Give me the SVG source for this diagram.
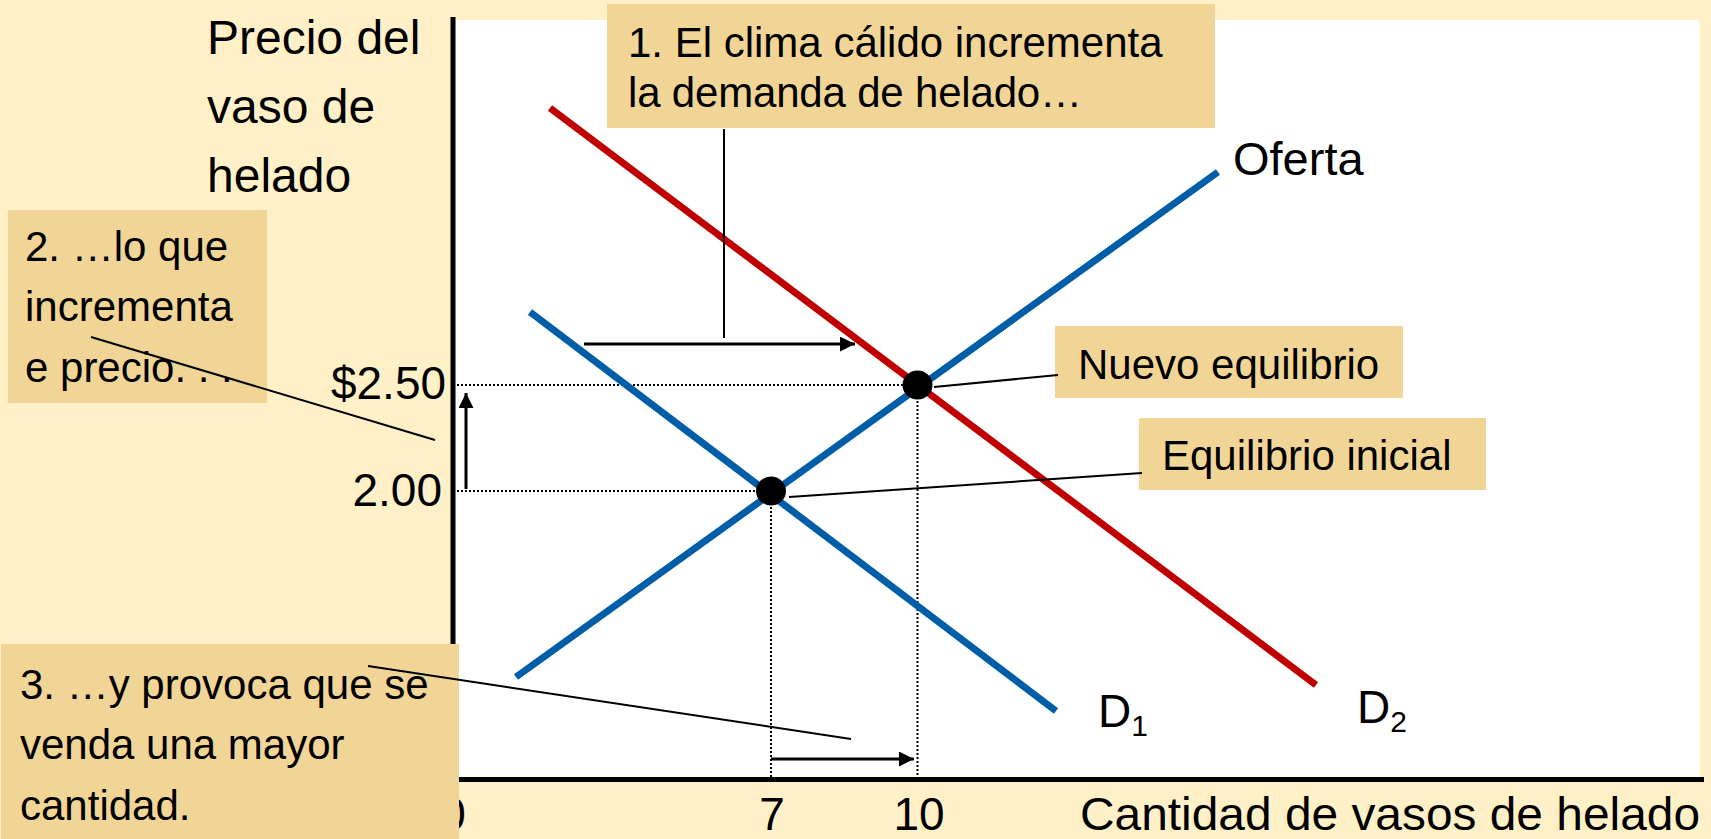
<svg xmlns="http://www.w3.org/2000/svg" width="1711" height="839" viewBox="0 0 1711 839">
<defs>
<marker id="ah" viewBox="0 0 10 10" refX="10" refY="5" markerWidth="5" markerHeight="5" orient="auto" markerUnits="strokeWidth">
<path d="M0,0 L10,5 L0,10 z" fill="#000"/>
</marker>
<style>
text{font-family:"Liberation Sans",Arial,sans-serif;fill:#000}
.box{fill:#F1D597}
.t42{font-size:42px}
.t46{font-size:46px}
.dot{stroke:#000;stroke-width:2;stroke-dasharray:2 2;fill:none}
.ptr{stroke:#000;stroke-width:2;fill:none}
.arr{stroke:#000;stroke-width:3;fill:none;marker-end:url(#ah)}
.blue{stroke:#005EA8;stroke-width:7;fill:none}
.red{stroke:#C00000;stroke-width:7;fill:none}
.ax{stroke:#000;stroke-width:5;fill:none}
</style>
</defs>
<rect x="0" y="0" width="1711" height="839" fill="#FFF0C8"/>
<rect x="455" y="20" width="1245" height="758" rx="4" fill="#FFFFFF"/>

<g id="guides">
<line class="dot" x1="457" y1="385" x2="917" y2="385"/>
<line class="dot" x1="457" y1="491" x2="771" y2="491"/>
<line class="dot" x1="771" y1="491" x2="771" y2="777"/>
<line class="dot" x1="917.5" y1="385" x2="917.5" y2="777"/>
</g>

<g id="axes">
<line class="ax" x1="453" y1="17" x2="453" y2="782"/>
<line class="ax" x1="451" y1="779.5" x2="1704" y2="779.5"/>
<text class="t46" x="453" y="830" text-anchor="middle">0</text>
<text class="t46" x="772" y="830" text-anchor="middle">7</text>
<text class="t46" x="919" y="830" text-anchor="middle">10</text>
<text class="t46" x="1080" y="830" textLength="620" lengthAdjust="spacingAndGlyphs">Cantidad de vasos de helado</text>
<text class="t46" x="446" y="399" text-anchor="end" textLength="115" lengthAdjust="spacingAndGlyphs">$2.50</text>
<text class="t46" x="442" y="506" text-anchor="end">2.00</text>
</g>

<g id="ylabel">
<text style="font-size:48px" x="207" y="54">Precio del</text>
<text style="font-size:48px" x="207" y="123">vaso de</text>
<text style="font-size:48px" x="207" y="192">helado</text>
</g>

<g id="supply">
<line class="blue" x1="516" y1="677" x2="1218" y2="172"/>
<text style="font-size:47px" x="1233" y="175">Oferta</text>
</g>
<g id="demand1">
<line class="blue" x1="530" y1="312" x2="1056" y2="711"/>
<text class="t46" x="1098" y="727">D<tspan font-size="30" dy="9">1</tspan></text>
</g>
<g id="demand2">
<line class="red" x1="550" y1="108" x2="1316" y2="685"/>
<text class="t46" x="1357" y="723">D<tspan font-size="30" dy="9">2</tspan></text>
</g>

<g id="eq-initial-dot"><ellipse cx="771" cy="491" rx="15" ry="14.5" fill="#000"/></g>
<g id="eq-new-dot"><ellipse cx="917.5" cy="385" rx="15" ry="14.5" fill="#000"/></g>

<g id="box1">
<rect class="box" x="607" y="4" width="608" height="124"/>
<text class="t42" x="628" y="57">1. El clima cálido incrementa</text>
<text class="t42" x="628" y="107" textLength="454" lengthAdjust="spacing">la demanda de helado…</text>
</g>
<g id="box2">
<rect class="box" x="8" y="210" width="259" height="193"/>
<text class="t42" x="25" y="261">2. …lo que</text>
<text class="t42" x="25" y="321">incrementa</text>
<text class="t42" x="25" y="382">e precio. . .</text>
</g>
<g id="box-nuevo">
<rect class="box" x="1055" y="326" width="348" height="72"/>
<text class="t42" x="1078" y="379">Nuevo equilibrio</text>
</g>
<g id="box-inicial">
<rect class="box" x="1139" y="418" width="347" height="72"/>
<text class="t42" x="1162" y="470">Equilibrio inicial</text>
</g>
<g id="box3">
<rect class="box" x="1" y="644" width="458" height="195"/>
<text class="t42" x="20" y="699">3. …y provoca que se</text>
<text class="t42" x="20" y="759">venda una mayor</text>
<text class="t42" x="20" y="820">cantidad.</text>
</g>

<g id="connectors">
<line class="arr" x1="584" y1="344" x2="855" y2="344"/>
<line class="arr" x1="466" y1="489" x2="466" y2="393"/>
<line class="arr" x1="771" y1="759" x2="914" y2="759"/>
<line class="ptr" x1="724" y1="129" x2="724" y2="338"/>
<line class="ptr" x1="91" y1="337" x2="435" y2="440"/>
<line class="ptr" x1="368" y1="666" x2="851" y2="739"/>
<line class="ptr" x1="934" y1="387" x2="1058" y2="375"/>
<line class="ptr" x1="789" y1="497" x2="1142" y2="473"/>
</g>
</svg>
